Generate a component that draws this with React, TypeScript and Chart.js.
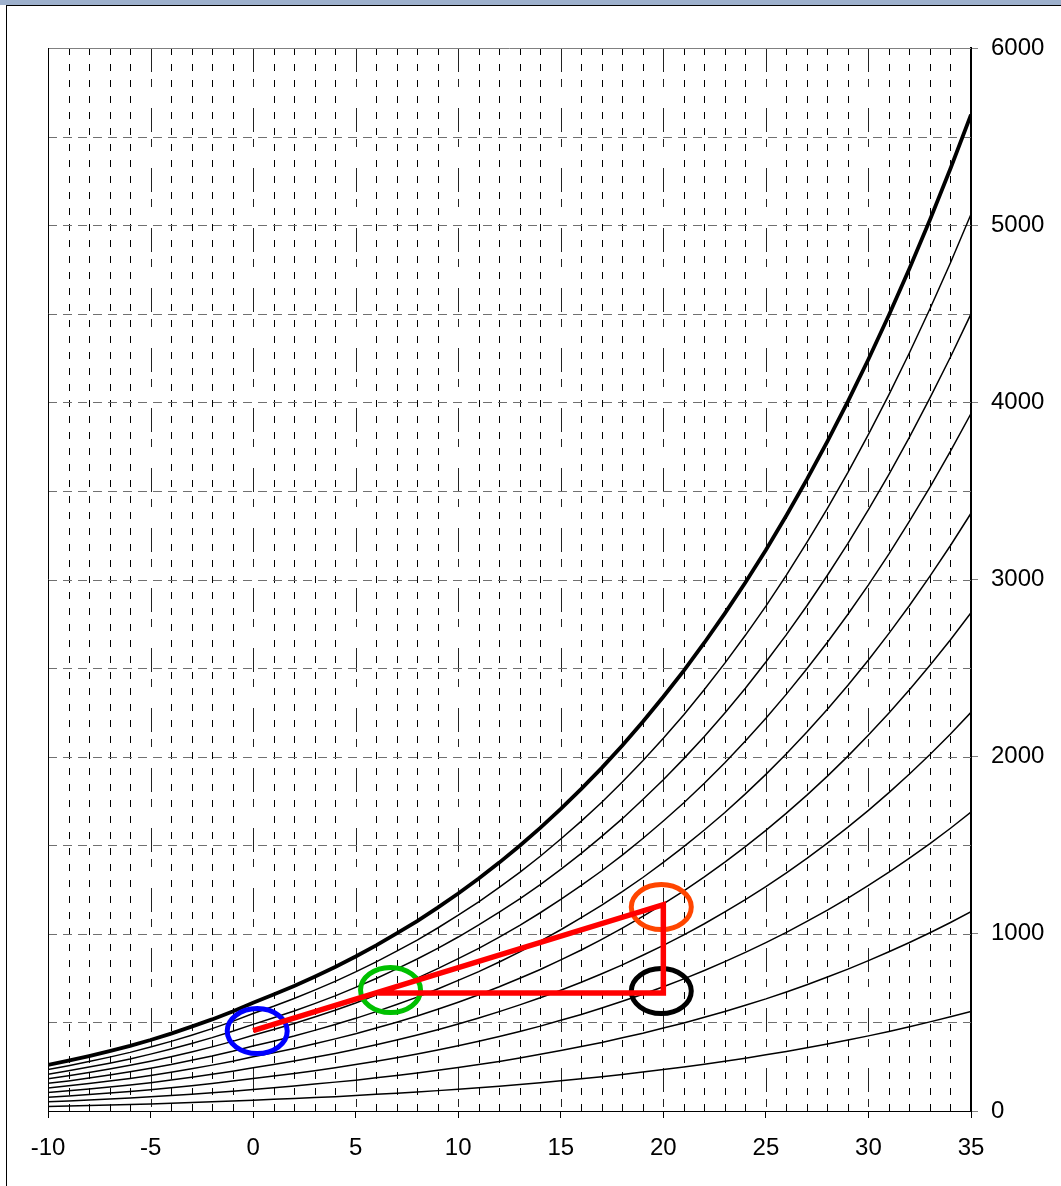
import React, { useEffect, useRef } from 'react';
import { Chart, registerables } from 'chart.js';

Chart.register(...registerables);

// Temperature (°C)
const temps = [
  -10, -9, -8, -7, -6, -5, -4, -3, -2, -1,
  0, 1, 2, 3, 4, 5, 6, 7, 8, 9,
  10, 11, 12, 13, 14, 15, 16, 17, 18, 19,
  20, 21, 22, 23, 24, 25, 26, 27, 28, 29,
  30, 31, 32, 33, 34, 35,
];

// Vapour pressure (Pa) for each relative humidity curve
const rh100 = [260, 284, 310, 338, 368, 401, 437, 476, 517, 562, 611, 657, 705, 758, 813, 872, 935, 1002, 1072, 1148, 1228, 1312, 1402, 1497, 1598, 1705, 1818, 1937, 2063, 2197, 2338, 2486, 2643, 2809, 2983, 3167, 3361, 3565, 3780, 4005, 4243, 4493, 4755, 5031, 5320, 5624];
const rh90 = [234, 256, 279, 304, 331, 361, 393, 428, 465, 506, 550, 591, 635, 682, 732, 785, 842, 902, 965, 1033, 1105, 1181, 1262, 1347, 1438, 1535, 1636, 1743, 1857, 1977, 2104, 2237, 2379, 2528, 2685, 2850, 3025, 3209, 3402, 3605, 3819, 4044, 4280, 4528, 4788, 5062];
const rh80 = [208, 227, 248, 270, 294, 321, 350, 381, 414, 450, 489, 526, 564, 606, 650, 698, 748, 802, 858, 918, 982, 1050, 1122, 1198, 1278, 1364, 1454, 1550, 1650, 1758, 1870, 1989, 2114, 2247, 2386, 2534, 2689, 2852, 3024, 3204, 3394, 3594, 3804, 4025, 4256, 4499];
const rh70 = [182, 199, 217, 237, 258, 281, 306, 333, 362, 393, 428, 460, 494, 531, 569, 610, 655, 701, 750, 804, 860, 918, 981, 1048, 1119, 1194, 1273, 1356, 1444, 1538, 1637, 1740, 1850, 1966, 2088, 2217, 2353, 2496, 2646, 2804, 2970, 3145, 3329, 3522, 3724, 3937];
const rh60 = [156, 170, 186, 203, 221, 241, 262, 286, 310, 337, 367, 394, 423, 455, 488, 523, 561, 601, 643, 689, 737, 787, 841, 898, 959, 1023, 1091, 1162, 1238, 1318, 1403, 1492, 1586, 1685, 1790, 1900, 2017, 2139, 2268, 2403, 2546, 2696, 2853, 3019, 3192, 3374];
const rh50 = [130, 142, 155, 169, 184, 201, 219, 238, 259, 281, 306, 329, 353, 379, 407, 436, 468, 501, 536, 574, 614, 656, 701, 749, 799, 853, 909, 969, 1032, 1099, 1169, 1243, 1322, 1405, 1492, 1584, 1681, 1783, 1890, 2003, 2122, 2247, 2378, 2516, 2660, 2812];
const rh40 = [104, 114, 124, 135, 147, 160, 175, 190, 207, 225, 244, 263, 282, 303, 325, 349, 374, 401, 429, 459, 491, 525, 561, 599, 639, 682, 727, 775, 825, 879, 935, 994, 1057, 1124, 1193, 1267, 1344, 1426, 1512, 1602, 1697, 1797, 1902, 2012, 2128, 2250];
const rh30 = [78, 85, 93, 101, 110, 120, 131, 143, 155, 169, 183, 197, 212, 227, 244, 262, 281, 301, 322, 344, 368, 394, 421, 449, 479, 512, 545, 581, 619, 659, 701, 746, 793, 843, 895, 950, 1008, 1070, 1134, 1202, 1273, 1348, 1427, 1509, 1596, 1687];
const rh20 = [52, 57, 62, 68, 74, 80, 87, 95, 103, 112, 122, 131, 141, 152, 163, 174, 187, 200, 214, 230, 246, 262, 280, 299, 320, 341, 364, 387, 413, 439, 468, 497, 529, 562, 597, 633, 672, 713, 756, 801, 849, 899, 951, 1006, 1064, 1125];
const rh10 = [26, 28, 31, 34, 37, 40, 44, 48, 52, 56, 61, 66, 71, 76, 81, 87, 94, 100, 107, 115, 123, 131, 140, 150, 160, 171, 182, 194, 206, 220, 234, 249, 264, 281, 298, 317, 336, 357, 378, 401, 424, 449, 476, 503, 532, 562];

const curveNames = ['100%', '90%', '80%', '70%', '60%', '50%', '40%', '30%', '20%', '10%'];
const curves = [rh100, rh90, rh80, rh70, rh60, rh50, rh40, rh30, rh20, rh10];

// Red process path
const processT = [0, 20, 20, 6.1];
const processP = [453, 1165, 666, 666];

// Highlight circles
const markerT = [0.2, 6.7, 19.9, 19.9];
const markerP = [451, 683, 1151, 677];
const markerColors = ['#0000FF', '#00C000', '#FF4500', '#000000'];

// Axis ranges
const xMin = -10;
const xMax = 35;
const yMin = 0;
const yMax = 6000;

const FONT = 'Liberation Sans, Arial, Helvetica, sans-serif';

const framePlugin = {
  id: 'frame',
  beforeDraw(chart: any) {
    const ctx = chart.ctx;
    ctx.save();
    ctx.fillStyle = '#ffffff';
    ctx.fillRect(0, 0, chart.width, chart.height);
    ctx.fillStyle = '#9DB0CC';
    ctx.fillRect(0, 0, chart.width, 5);
    ctx.fillStyle = '#000000';
    ctx.fillRect(6, 5, chart.width - 6, 1);
    ctx.fillRect(6, 5, 1, chart.height - 5);
    ctx.restore();
  },
};

const gridPlugin = {
  id: 'customGrid',
  beforeDatasetsDraw(chart: any) {
    const ctx = chart.ctx;
    const xs = chart.scales.x;
    const ys = chart.scales.y;
    const { left, right, top, bottom } = chart.chartArea;
    ctx.save();
    ctx.lineWidth = 1;
    for (let t = xMin + 1; t < xMax; t++) {
      const px = Math.round(xs.getPixelForValue(t)) + 0.5;
      ctx.beginPath();
      if (t % 5 === 0) {
        ctx.strokeStyle = '#222222';
        ctx.setLineDash([24, 7, 8, 21]);
      } else {
        ctx.strokeStyle = '#000000';
        ctx.setLineDash([7, 9]);
      }
      ctx.moveTo(px, top);
      ctx.lineTo(px, bottom);
      ctx.stroke();
    }
    ctx.strokeStyle = '#707070';
    ctx.setLineDash([9, 6]);
    for (let v = 500; v < yMax; v += 500) {
      const py = Math.round(ys.getPixelForValue(v)) + 0.5;
      ctx.beginPath();
      ctx.moveTo(left, py);
      ctx.lineTo(right, py);
      ctx.stroke();
    }
    ctx.setLineDash([]);
    ctx.strokeStyle = '#808080';
    ctx.beginPath();
    const ty = Math.round(ys.getPixelForValue(yMax)) + 0.5;
    ctx.moveTo(left, ty);
    ctx.lineTo(right, ty);
    ctx.stroke();
    ctx.strokeStyle = '#000000';
    ctx.beginPath();
    const lx = Math.round(left) + 0.5;
    ctx.moveTo(lx, top);
    ctx.lineTo(lx, bottom);
    ctx.stroke();
    ctx.restore();
  },
};

// Ellipses drawn after the curves but before the red process line (dataset 0, drawn last)
const markerPlugin = {
  id: 'markers',
  afterDatasetDraw(chart: any, args: any) {
    if (args.index !== 1) return;
    const ctx = chart.ctx;
    const xs = chart.scales.x;
    const ys = chart.scales.y;
    ctx.save();
    ctx.lineWidth = 5;
    ctx.setLineDash([]);
    for (let i = 0; i < markerT.length; i++) {
      const cx = xs.getPixelForValue(markerT[i]);
      const cy = ys.getPixelForValue(markerP[i]);
      ctx.strokeStyle = markerColors[i];
      ctx.beginPath();
      ctx.ellipse(cx, cy, 30, 22.5, 0, 0, Math.PI * 2);
      ctx.stroke();
    }
    ctx.restore();
  },
};

export default function App() {
  const canvasRef = useRef<HTMLCanvasElement | null>(null);

  useEffect(() => {
    const canvas = canvasRef.current;
    if (!canvas) return;

    const datasets: any[] = [];
    datasets.push({
      label: 'process',
      data: processT.map((t, i) => ({ x: t, y: processP[i] })),
      borderColor: '#FF0000',
      borderWidth: 5.5,
      borderJoinStyle: 'miter',
      borderCapStyle: 'butt',
      pointRadius: 0,
      fill: false,
      tension: 0,
    });
    curves.forEach((arr, k) => {
      datasets.push({
        label: curveNames[k],
        data: temps.map((t, i) => ({ x: t, y: arr[i] })),
        borderColor: '#000000',
        borderWidth: k === 0 ? 3.8 : 1.5,
        pointRadius: 0,
        fill: false,
        tension: 0,
      });
    });

    const chart = new Chart(canvas, {
      type: 'line',
      data: { datasets },
      options: {
        animation: false,
        responsive: false,
        maintainAspectRatio: false,
        layout: { padding: { left: 48, top: 48, right: 0, bottom: 0 } },
        plugins: {
          legend: { display: false },
          tooltip: { enabled: false },
          title: { display: false },
        },
        scales: {
          x: {
            type: 'linear',
            min: xMin,
            max: xMax,
            afterFit: (scale: any) => {
              scale.height = 75;
            },
            ticks: {
              stepSize: 1,
              autoSkip: false,
              maxRotation: 0,
              minRotation: 0,
              padding: 16,
              color: '#000000',
              font: { family: FONT, size: 24 },
              callback: (v: any) => (Number(v) % 5 === 0 ? String(v) : ''),
            },
            grid: {
              drawOnChartArea: false,
              drawTicks: true,
              tickLength: 7,
              tickWidth: 1,
              tickColor: (ctx: any) =>
                ctx.tick && Number(ctx.tick.value) % 5 === 0 ? '#000000' : 'rgba(0,0,0,0)',
            },
            border: { display: true, color: '#000000', width: 1 },
          },
          y: {
            type: 'linear',
            position: 'right',
            min: yMin,
            max: yMax,
            afterFit: (scale: any) => {
              scale.width = 90;
            },
            ticks: {
              stepSize: 500,
              autoSkip: false,
              padding: 13,
              color: '#000000',
              font: { family: FONT, size: 24 },
              callback: (v: any) => (Number(v) % 1000 === 0 ? String(v) : ''),
            },
            grid: {
              drawOnChartArea: false,
              drawTicks: true,
              tickLength: 7,
              tickWidth: 1,
              tickColor: (ctx: any) =>
                ctx.tick && Number(ctx.tick.value) % 1000 === 0 ? '#808080' : 'rgba(0,0,0,0)',
            },
            border: { display: true, color: '#000000', width: 2 },
          },
        },
      },
      plugins: [framePlugin, gridPlugin, markerPlugin],
    });

    return () => {
      chart.destroy();
    };
  }, []);

  return (
    <div style={{ position: 'absolute', left: 0, top: 0, width: 1061, height: 1186, background: '#ffffff' }}>
      <canvas ref={canvasRef} width={1061} height={1186} style={{ display: 'block', width: 1061, height: 1186 }} />
    </div>
  );
}
